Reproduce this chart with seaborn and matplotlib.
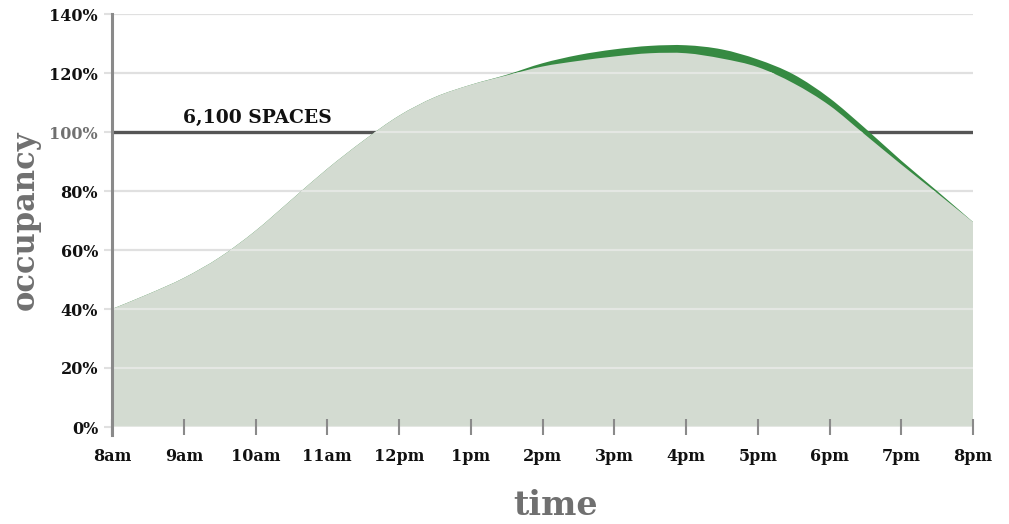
import numpy as np
import pandas as pd
import matplotlib
matplotlib.use("Agg")
import matplotlib.pyplot as plt
from matplotlib.path import Path
from matplotlib.patches import PathPatch
import seaborn as sns

# readings every half hour, 8am -> 8pm
hours = [0, 0.5, 1, 1.5, 2, 2.5, 3, 3.5, 4, 4.5, 5, 5.5, 6, 6.5, 7, 7.5, 8,
         8.5, 9, 9.5, 10, 10.5, 11, 11.5, 12]
occupancy_now = [40, 45.0, 50.5, 57.5, 66.5, 77.0, 87.5, 97.0, 105.5, 111.8, 116.0, 119.2,
                 122.2, 124.1, 125.6, 126.7, 126.7, 124.9, 122.0, 116.5, 109.0, 99.0,
                 89.0, 79.3, 69.5]
occupancy_future = [40, 45.0, 50.5, 57.5, 66.5, 77.0, 87.5, 97.0, 105.5, 111.8, 116.0, 119.4,
                    123.3, 126.1, 128.0, 129.2, 129.4, 128.0, 124.6, 119.5, 111.5, 101.2,
                    90.3, 80.0, 69.5]
capacity = 100
capacity_label = "6,100 SPACES"
x_ticks = list(range(13))
x_labels = ["8am", "9am", "10am", "11am", "12pm", "1pm", "2pm", "3pm",
            "4pm", "5pm", "6pm", "7pm", "8pm"]
y_ticks = [0, 20, 40, 60, 80, 100, 120, 140]

df = pd.DataFrame({"hour": hours, "now": occupancy_now, "future": occupancy_future})


def smooth_area(x, y):
    # closed area under a Catmull-Rom curve, drawn as cubic bezier segments
    p = np.column_stack([x, y]).astype(float)
    pp = np.vstack([p[0], p, p[-1]])
    verts = [(p[0, 0], 0), tuple(p[0])]
    codes = [Path.MOVETO, Path.LINETO]
    for i in range(len(p) - 1):
        c1 = pp[i + 1] + (pp[i + 2] - pp[i]) / 6
        c2 = pp[i + 2] - (pp[i + 3] - pp[i + 1]) / 6
        verts += [tuple(c1), tuple(c2), tuple(p[i + 1])]
        codes += [Path.CURVE4] * 3
    verts += [(p[-1, 0], 0), (p[0, 0], 0)]
    codes += [Path.LINETO, Path.CLOSEPOLY]
    return Path(verts, codes)


sns.set_style("white")
plt.rcParams["font.family"] = ["DejaVu Serif"]

fig = plt.figure(figsize=(10.09, 5.24), dpi=100)
ax = fig.add_axes([112 / 1009, 97 / 524, 861 / 1009, 413 / 524])
ax.set_axisbelow(False)  # ticks above the filled area

GREY_FILL = "#d3dbd1"
GREEN = "#368a42"
GRID = "#e0e0e0"
AXIS = "#8a8a8a"

# gridlines behind
for v in y_ticks:
    if v != capacity:
        ax.axhline(v, color=GRID, lw=1.6, zorder=0.5)
ax.axhline(capacity, color="#555555", lw=2.4, zorder=1.0)

green = PathPatch(smooth_area(df["hour"], df["future"]), facecolor=GREEN, lw=0, zorder=1.2)
grey = PathPatch(smooth_area(df["hour"], df["now"]), facecolor=GREY_FILL, lw=0, zorder=1.3)
ax.add_patch(green)
ax.add_patch(grey)

# faint gridlines showing through the filled area
for v in y_ticks:
    gl = ax.axhline(v, color="#e4e7e3", lw=1.6, zorder=1.4)
    gl.set_clip_path(grey)

ax.text(2.03, capacity + 1.8, capacity_label, ha="center", va="bottom",
        fontsize=13.5, fontweight="bold", color="#111111", zorder=3)

ax.set_xlim(0, 12)
ax.set_ylim(0, 140)
ax.set_xticks(x_ticks)
ax.set_xticklabels(x_labels)
ax.set_yticks(y_ticks)
ax.set_yticklabels([f"{v}%" for v in y_ticks])

for s in ["top", "right", "bottom"]:
    ax.spines[s].set_visible(False)
ax.spines["left"].set_color(AXIS)
ax.spines["left"].set_linewidth(2.2)
ax.spines["left"].set_bounds(-2.8, 140)
ax.spines["left"].set_zorder(5)

ax.tick_params(axis="x", bottom=True, top=False, direction="inout", length=12,
               width=1.5, color=AXIS, pad=9, labelsize=11.5, labelcolor="#111111")
ax.tick_params(axis="y", left=True, right=False, direction="out", length=6,
               width=1.5, color=GRID, pad=4, labelsize=11.5, labelcolor="#111111")
for t in ax.get_xticklabels() + ax.get_yticklabels():
    t.set_fontweight("bold")
    t.set_clip_on(False)
idx = y_ticks.index(capacity)
ax.yaxis.get_major_ticks()[idx].tick1line.set_color("#555555")
ax.get_yticklabels()[idx].set_color("#707070")

ax.set_xlabel("time", fontsize=24, fontweight="bold", color="#707070")
ax.xaxis.set_label_coords((556 - 112) / 861, (427 - 489) / 413)
ax.set_ylabel("occupancy", fontsize=22, fontweight="bold", color="#707070", labelpad=6)

fig.savefig("out.png", dpi=100)
